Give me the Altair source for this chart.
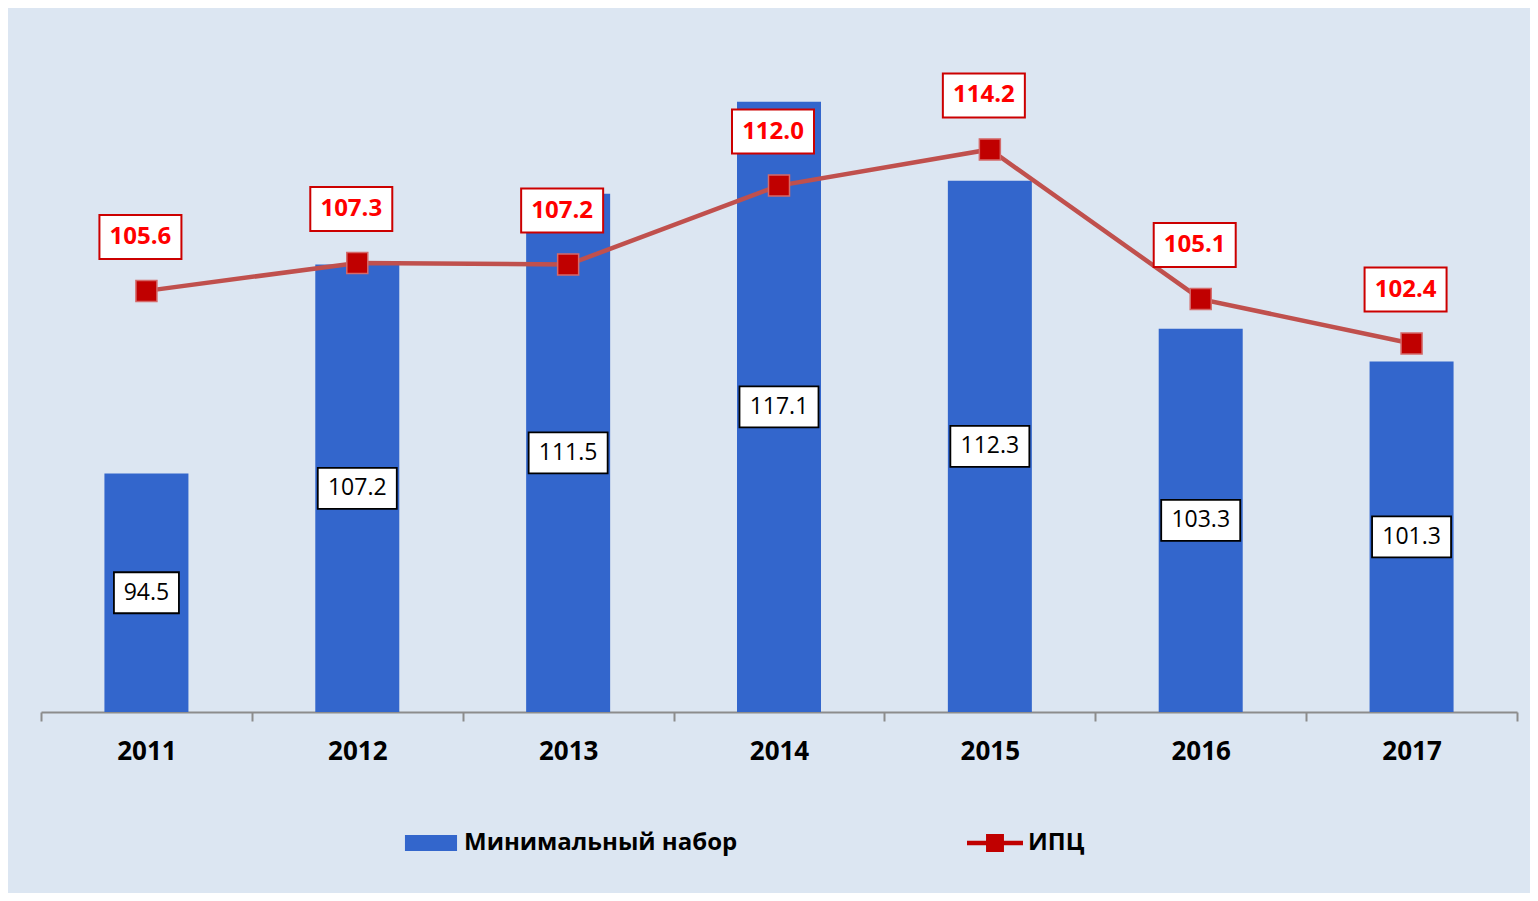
import altair as alt
import pandas as pd

years = ["2011", "2012", "2013", "2014", "2015", "2016", "2017"]
basket = [94.5, 107.2, 111.5, 117.1, 112.3, 103.3, 101.3]
cpi = [105.6, 107.3, 107.2, 112.0, 114.2, 105.1, 102.4]
series_names = ["Минимальный набор", "ИПЦ"]

bars_df = pd.DataFrame({"year": years, "value": basket, "series": series_names[0]})
line_df = pd.DataFrame({"year": years, "value": cpi, "series": series_names[1]})

Y_MIN, Y_MAX = 80, 120
FONT = "Open Sans"

RECT_PATH = "M-0.93,-0.29H0.93V0.29H-0.93Z"
LINE_PATH = "M-1,-0.08H1V0.08H-1Z M-0.32,-0.32H0.32V0.32H-0.32Z"

x = alt.X(
    "year:N",
    title=None,
    scale=alt.Scale(paddingInner=0, paddingOuter=0),
    axis=alt.Axis(
        tickBand="extent", labelAngle=0, labelFont=FONT, labelFontSize=26,
        labelFontWeight="bold", labelColor="#000000", labelPadding=17,
        tickSize=9, tickColor="#8C8C8C", tickWidth=2,
        domainColor="#8C8C8C", domainWidth=2, grid=False,
    ),
)
yscale = alt.Scale(domain=[Y_MIN, Y_MAX], nice=False, zero=False)
y = alt.Y("value:Q", scale=yscale, axis=None)

legend = alt.Legend(
    orient="none", legendX=362, legendY=761, direction="horizontal", columns=2,
    title=None, labelFont=FONT, labelFontSize=24, labelFontWeight="bold",
    labelColor="#000000", symbolSize=3136, labelOffset=5, columnPadding=229,
    padding=0, symbolStrokeWidth=0, labelLimit=0,
)
color = alt.Color("series:N", scale=alt.Scale(domain=series_names, range=["#3366CC", "#C00000"]), legend=legend)
shape = alt.Shape("series:N", scale=alt.Scale(domain=series_names, range=[RECT_PATH, LINE_PATH]), legend=legend)

bars = alt.Chart(bars_df).mark_bar(size=84).encode(x=x, y=y, y2=alt.datum(Y_MIN), color=color)

bar_calc = alt.Chart(bars_df).transform_calculate(
    mid=f"(datum.value + {Y_MIN}) / 2",
    w="length(format(datum.value, '.1f')) * 14 + 9",
)
bar_box = bar_calc.mark_bar(
    fill="white", stroke="black", strokeWidth=1.8, yOffset=-20.5, y2Offset=20.5
).encode(
    x=x, y=alt.Y("mid:Q", scale=yscale, axis=None), y2=alt.Y2("mid:Q"),
    size=alt.Size("w:Q", scale=None),
)
bar_text = bar_calc.mark_text(
    font=FONT, fontSize=23, color="#000000", baseline="middle"
).encode(
    x=x, y=alt.Y("mid:Q", scale=yscale, axis=None),
    text=alt.Text("value:Q", format=".1f"),
)

line = alt.Chart(line_df).mark_line(color="#C0504D", strokeWidth=4.5).encode(x=x, y=y)
pts = alt.Chart(line_df).mark_point(
    shape="square", filled=True, fill="#C00000", stroke="#D46A6A",
    strokeWidth=1.5, size=441, opacity=1,
).encode(x=x, y=y)

line_box = alt.Chart(line_df).mark_bar(
    fill="white", stroke="#CC0000", strokeWidth=2, size=82,
    xOffset=-6, yOffset=-76, y2Offset=-32,
).encode(x=x, y=y, y2=alt.Y2("value:Q"))
line_text = alt.Chart(line_df).mark_text(
    font=FONT, fontSize=24, fontWeight="bold", color="#FF0000",
    dx=-6, dy=-54, baseline="middle",
).encode(x=x, y=y, text=alt.Text("value:Q", format=".1f"))

legend_layer = alt.Chart(line_df).transform_filter("datum.year == 'none'").mark_point(
    filled=True, opacity=1
).encode(x=x, y=y, color=color, shape=shape)

chart = alt.layer(
    bars, bar_box, bar_text, line, pts, line_box, line_text, legend_layer
).properties(
    width=1476, height=658,
    padding={"left": 33, "top": 46, "right": 13, "bottom": 181},
    autosize=alt.AutoSizeParams(type="none"),
    background="#DCE6F2",
).configure_view(stroke=None)

chart.save("out.html", embed_options={"renderer": "svg", "actions": False})
